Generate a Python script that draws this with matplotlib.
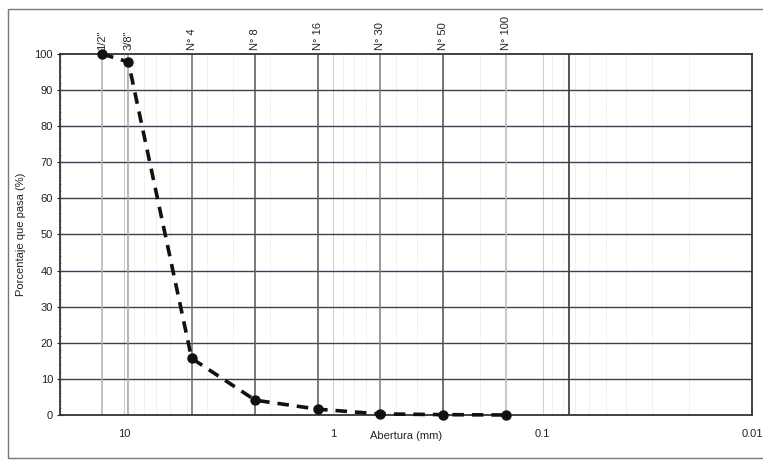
import numpy as np
import matplotlib
matplotlib.use("Agg")
import matplotlib.pyplot as plt
from matplotlib.patches import Rectangle
from matplotlib.ticker import FixedLocator, MultipleLocator, NullFormatter

# Data
sieve_labels = ['1/2"', '3/8"', 'N° 4', 'N° 8', 'N° 16', 'N° 30', 'N° 50', 'N° 100']
sieve_mm = [12.7, 9.525, 4.75, 2.36, 1.18, 0.6, 0.3, 0.15]
passing = [100.0, 97.8, 15.7, 4.1, 1.6, 0.3, 0.1, 0.0]
no200_mm = 0.075
x_ticks = [10, 1, 0.1, 0.01]
x_ticklabels = ['10', '1', '0.1', '0.01']
y_ticks = list(range(0, 101, 10))

plt.rcParams['font.family'] = ['Liberation Sans', 'DejaVu Sans']

fig = plt.figure(figsize=(7.63, 4.62), dpi=100)
fig.patches.append(Rectangle((8/763, 1-458/462), 1.2, (458-9)/462,
                             transform=fig.transFigure, fill=False,
                             edgecolor='#777777', linewidth=1.0))
ax = fig.add_axes([60/763, 1-415/462, (752-60)/763, (415-54)/462])

ax.set_xscale('log')
ax.set_xlim(20.2, 0.01)
ax.set_ylim(0, 100)

# minor log grid
minor = [m * 10.0**e for e in range(-2, 2) for m in range(2, 10)]
minor = [v for v in minor if 0.01 < v < 20.2]
for v in minor:
    ax.axvline(v, color='#e2e2e2', linewidth=0.7, linestyle=(0, (1, 1)), zorder=1)
for v in [0.1, 1, 10]:
    ax.axvline(v, color='#d0d0d0', linewidth=0.8, zorder=1)

# horizontal grid
for yv in y_ticks[1:-1]:
    ax.axhline(yv, color='#3c3f55', linewidth=1.0, zorder=2)

# sieve lines
sieve_colors = ['#b0b0b0', '#a0a0a0', '#6a6a6a', '#555555', '#555555', '#808080', '#505050', '#b8b8b8']
for v, c in zip(sieve_mm, sieve_colors):
    ax.axvline(v, color=c, linewidth=1.1, zorder=2)
ax.axvline(no200_mm, color='#444444', linewidth=1.3, zorder=2)

for v, lab in zip(sieve_mm, sieve_labels):
    ax.text(v, 1.012, lab, transform=ax.get_xaxis_transform(), rotation=90,
            ha='center', va='bottom', fontsize=8, color='#222222')

ax.plot(sieve_mm, passing, linestyle=(0, (3.2, 2.2)), color='#111111', linewidth=2.6,
        marker='o', markersize=6.5, markerfacecolor='#111111', markeredgecolor='#111111',
        zorder=5, clip_on=False)

ax.xaxis.set_major_locator(FixedLocator(x_ticks))
ax.set_xticklabels(x_ticklabels)
ax.xaxis.set_minor_formatter(NullFormatter())
ax.tick_params(axis='x', which='both', length=0, labelsize=8, pad=10, colors='#222222')
ax.set_yticks(y_ticks)
ax.yaxis.set_minor_locator(MultipleLocator(2))
ax.tick_params(axis='y', which='major', length=4, labelsize=8, pad=3, colors='#222222', direction='inout')
ax.tick_params(axis='y', which='minor', length=2, color='#777777', direction='inout')

for s in ax.spines.values():
    s.set_color('#333333')
    s.set_linewidth(1.3)

ax.set_ylabel('Porcentaje que pasa (%)', fontsize=8, labelpad=6, color='#222222')
ax.set_xlabel('Abertura (mm)', fontsize=8, labelpad=-6, color='#222222')

fig.savefig('out.png', dpi=100)
